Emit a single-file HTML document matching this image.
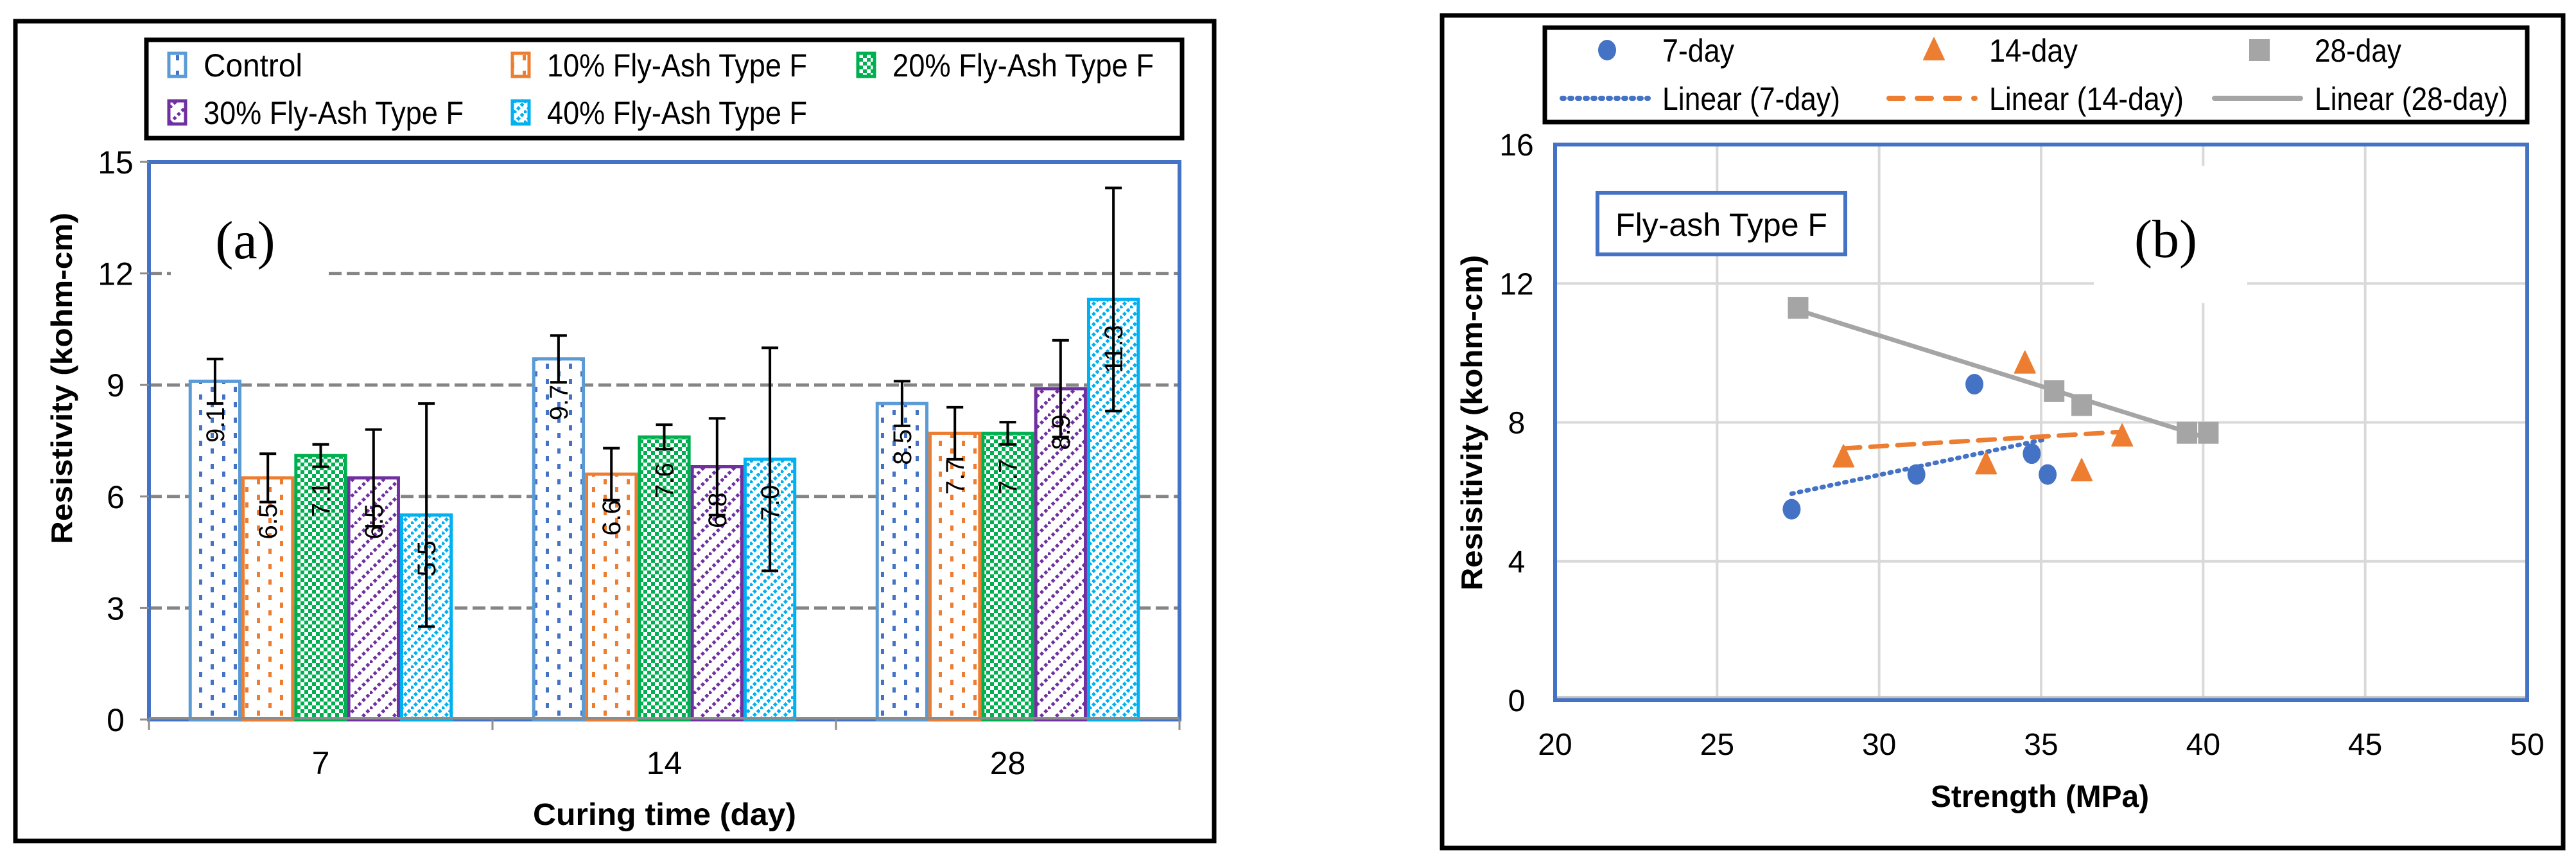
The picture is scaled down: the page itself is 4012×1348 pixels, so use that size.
<!DOCTYPE html>
<html><head><meta charset="utf-8"><style>
html,body{margin:0;padding:0;background:#fff;}
svg{display:block;font-family:"Liberation Sans",sans-serif;}
</style></head><body>
<svg id="fig" width="4012" height="1348" viewBox="0 0 4012 1348" xmlns="http://www.w3.org/2000/svg">
<defs>
<pattern id="pCtrl" width="36" height="24" patternUnits="userSpaceOnUse"><rect width="36" height="24" fill="#fff"/><rect x="4" y="2" width="5" height="8" fill="#4472C4"/><rect x="22" y="14" width="5" height="8" fill="#4472C4"/></pattern>
<pattern id="p10" width="36" height="24" patternUnits="userSpaceOnUse"><rect width="36" height="24" fill="#fff"/><rect x="4" y="2" width="5" height="8" fill="#ED7D31"/><rect x="22" y="14" width="5" height="8" fill="#ED7D31"/></pattern>
<pattern id="p20" width="12" height="12" patternUnits="userSpaceOnUse"><rect width="12" height="12" fill="#fff"/><rect x="0" y="0" width="6" height="6" fill="#00B050"/><rect x="6" y="6" width="6" height="6" fill="#00B050"/></pattern>
<pattern id="p30" width="24" height="24" patternUnits="userSpaceOnUse"><rect width="24" height="24" fill="#fff"/><path d="M0,24 L24,0" stroke="#7030A0" stroke-width="5" stroke-dasharray="5 4"/></pattern>
<pattern id="p40" width="16" height="16" patternUnits="userSpaceOnUse"><rect width="16" height="16" fill="#fff"/><path d="M0,16 L16,0" stroke="#00B0F0" stroke-width="5" stroke-dasharray="5 3"/></pattern>
</defs>

<!-- LEFT PANEL -->
<rect x="24" y="33" width="1867" height="1276" fill="#fff" stroke="#000" stroke-width="7"/>
<g id="legA">
<rect x="228" y="62" width="1613" height="153" fill="#fff" stroke="#000" stroke-width="7"/>
</g>
<g id="gridA"></g>
<rect x="232" y="252" width="1605" height="868" fill="none" stroke="#4472C4" stroke-width="6"/>
<g id="barsA"></g>
<g id="axesA"></g>
<text x="382" y="402" font-family="Liberation Serif,serif" font-size="84" text-anchor="middle">(a)</text>
<text x="1035" y="1284" font-size="48" font-weight="bold" text-anchor="middle" textLength="410" lengthAdjust="spacingAndGlyphs">Curing time (day)</text>
<text transform="translate(112,589) rotate(-90)" font-size="46" font-weight="bold" text-anchor="middle" textLength="516" lengthAdjust="spacingAndGlyphs">Resistivity (kohm-cm)</text>

<!-- RIGHT PANEL -->
<rect x="2246" y="24" width="1746" height="1296" fill="#fff" stroke="#000" stroke-width="7"/>
<g id="legB">
<rect x="2406" y="43" width="1530" height="147" fill="#fff" stroke="#000" stroke-width="7"/>
</g>
<g id="gridB"></g>
<rect x="3261" y="258" width="239" height="214" fill="#fff"/>
<rect x="2422" y="225" width="1514" height="865" fill="none" stroke="#4472C4" stroke-width="6"/>
<rect x="2488" y="300" width="386" height="96" fill="#fff" stroke="#4472C4" stroke-width="6"/>
<text x="2681" y="367" font-size="50" text-anchor="middle" textLength="330" lengthAdjust="spacingAndGlyphs">Fly-ash Type F</text>
<text x="3373" y="400" font-family="Liberation Serif,serif" font-size="84" text-anchor="middle">(b)</text>
<g id="trendB"></g>
<g id="ptsB"></g>
<g id="axesB"></g>
<text x="3177" y="1256" font-size="48" font-weight="bold" text-anchor="middle" textLength="340" lengthAdjust="spacingAndGlyphs">Strength (MPa)</text>
<text transform="translate(2308,658) rotate(-90)" font-size="46" font-weight="bold" text-anchor="middle" textLength="522" lengthAdjust="spacingAndGlyphs">Resisitivity (kohm-cm)</text>
</svg>
<script>
// ---- Chart A data ----
const catsA = ["7", "14", "28"];
const seriesNamesA = ["Control", "10% Fly-Ash Type F", "20% Fly-Ash Type F", "30% Fly-Ash Type F", "40% Fly-Ash Type F"];
const ctrlVals = [9.1, 9.7, 8.5];
const fa10Vals = [6.5, 6.6, 7.7];
const fa20Vals = [7.1, 7.6, 7.7];
const fa30Vals = [6.5, 6.8, 8.9];
const fa40Vals = [5.5, 7.0, 11.3];
const ctrlErr = [0.6, 0.63, 0.6];
const fa10Err = [0.65, 0.7, 0.7];
const fa20Err = [0.3, 0.33, 0.3];
const fa30Err = [1.3, 1.3, 1.3];
const fa40Err = [3.0, 3.0, 3.0];
const yTicksA = [0, 3, 6, 9, 12, 15];

// ---- Chart B data ----
const str7 = [27.3, 31.15, 32.94, 34.71, 35.2];
const res7 = [5.5, 6.5, 9.1, 7.1, 6.5];
const str14 = [28.9, 33.3, 34.5, 36.25, 37.5];
const res14 = [7.0, 6.8, 9.7, 6.6, 7.6];
const str28 = [27.5, 35.4, 36.25, 39.5, 40.16];
const res28 = [11.3, 8.9, 8.5, 7.7, 7.7];
const xTicksB = [20, 25, 30, 35, 40, 45, 50];
const yTicksB = [0, 4, 8, 12, 16];

const NS = "http://www.w3.org/2000/svg";
function mk(tag, attrs, parent, txt) {
  const e = document.createElementNS(NS, tag);
  for (const k in attrs) e.setAttribute(k, attrs[k]);
  if (txt !== undefined) e.textContent = txt;
  parent.appendChild(e);
  return e;
}

// ---- Chart A ----
const A = {x0: 232, x1: 1837, y0: 1120, y1: 252, max: 15};
const yA = v => A.y0 - v * (A.y0 - A.y1) / A.max;
const catW = (A.x1 - A.x0) / catsA.length;
const bw = catW / 6.5;
const valsA = [ctrlVals, fa10Vals, fa20Vals, fa30Vals, fa40Vals];
const errsA = [ctrlErr, fa10Err, fa20Err, fa30Err, fa40Err];
const strokesA = ["#5B9BD5", "#ED7D31", "#00B050", "#7030A0", "#00B0F0"];
const fillsA = ["url(#pCtrl)", "url(#p10)", "url(#p20)", "url(#p30)", "url(#p40)"];
const gridA = document.getElementById("gridA");
yTicksA.forEach(t => {
  if (t > 0 && t < A.max) {
    const l = mk("line", {x1: A.x0, x2: A.x1, y1: yA(t), y2: yA(t), stroke: "#858585", "stroke-width": 5, "stroke-dasharray": "20 8"}, gridA);
    
    
  }
});
mk("rect", {x: 266, y: yA(12) - 6, width: 238, height: 12, fill: "#fff"}, gridA);
const barsA = document.getElementById("barsA");
valsA.forEach((vals, s) => {
  vals.forEach((v, i) => {
    const cx = A.x0 + catW * (i + 0.5);
    const x = cx - 2.5 * bw + s * bw;
    const r = mk("rect", {x: x + 2.5, y: yA(v), width: bw - 5, height: A.y0 - yA(v), fill: fillsA[s], stroke: strokesA[s], "stroke-width": 5}, barsA);
    
    
    const bx = x + bw / 2, e = errsA[s][i];
    const eg = mk("g", {stroke: "#000", "stroke-width": 4}, barsA);
    
    
    mk("line", {x1: bx, x2: bx, y1: yA(v + e), y2: yA(v - e)}, eg);
    mk("line", {x1: bx - 13, x2: bx + 13, y1: yA(v + e), y2: yA(v + e)}, eg);
    mk("line", {x1: bx - 13, x2: bx + 13, y1: yA(v - e), y2: yA(v - e)}, eg);
    const lbl = mk("text", {transform: `translate(${bx + 14},${yA(v) + 40}) rotate(-90)`, "font-size": 40, "text-anchor": "end"}, barsA, v.toFixed(1));
    
    
  });
});
const axesA = document.getElementById("axesA");
mk("line", {x1: A.x0, x2: A.x1, y1: A.y0 - 2, y2: A.y0 - 2, stroke: "#8C8C8C", "stroke-width": 4}, axesA);
yTicksA.forEach(t => {
  mk("line", {x1: A.x0 - 14, x2: A.x0, y1: yA(t), y2: yA(t), stroke: "#8C8C8C", "stroke-width": 3}, axesA);
  const tl = mk("text", {x: A.x0 - 52, y: yA(t) + 18, "font-size": 50, "text-anchor": "middle"}, axesA, String(t));
  
  
});
for (let i = 0; i <= catsA.length; i++) {
  const x = A.x0 + catW * i;
  mk("line", {x1: x, x2: x, y1: A.y0, y2: A.y0 + 16, stroke: "#8C8C8C", "stroke-width": 3}, axesA);
}
catsA.forEach((c, i) => {
  const tl = mk("text", {x: A.x0 + catW * (i + 0.5), y: 1205, "font-size": 50, "text-anchor": "middle"}, axesA, c);
  
  
});
// legend A
const legA = document.getElementById("legA");
const legPosA = [[275, 101], [810, 101], [1348, 101], [275, 175], [810, 175]];
const legLenA = [154, 405, 407, 405, 405];
seriesNamesA.forEach((n, s) => {
  const [lx, ly] = legPosA[s];
  const g = mk("g", {}, legA);
  
  
  mk("rect", {x: lx - 12, y: ly - 18, width: 26, height: 36, fill: fillsA[s], stroke: strokesA[s], "stroke-width": 5}, g);
  mk("text", {x: lx + 42, y: ly + 18, "font-size": 50, textLength: legLenA[s], lengthAdjust: "spacingAndGlyphs"}, g, n);
});

// ---- Chart B ----
const B = {x0: 2422, x1: 3936, y0: 1090, y1: 225, xmin: 20, xmax: 50, ymax: 16};
const xB = v => B.x0 + (v - B.xmin) * (B.x1 - B.x0) / (B.xmax - B.xmin);
const yB = v => B.y0 - v * (B.y0 - B.y1) / B.ymax;
const gridB = document.getElementById("gridB");
xTicksB.forEach(t => {
  if (t > B.xmin && t < B.xmax) {
    const l = mk("line", {x1: xB(t), x2: xB(t), y1: B.y1, y2: B.y0, stroke: "#D9D9D9", "stroke-width": 4}, gridB);
    
    
  }
});
yTicksB.forEach(t => {
  if (t > 0 && t < B.ymax) {
    const l = mk("line", {x1: B.x0, x2: B.x1, y1: yB(t), y2: yB(t), stroke: "#D9D9D9", "stroke-width": 4}, gridB);
    
    
  }
});
mk("line", {x1: B.x0, x2: B.x1, y1: B.y0 - 4, y2: B.y0 - 4, stroke: "#BFBFBF", "stroke-width": 5}, gridB);
const axesB = document.getElementById("axesB");
xTicksB.forEach(t => {
  const tl = mk("text", {x: xB(t), y: 1175, "font-size": 48, "text-anchor": "middle"}, axesB, String(t));
  
  
});
yTicksB.forEach(t => {
  const tl = mk("text", {x: 2362, y: yB(t) + 17, "font-size": 48, "text-anchor": "middle"}, axesB, String(t));
  
  
});
function fit(xs, ys) {
  const n = xs.length, mx = xs.reduce((a, b) => a + b) / n, my = ys.reduce((a, b) => a + b) / n;
  let sxy = 0, sxx = 0;
  for (let i = 0; i < n; i++) { sxy += (xs[i] - mx) * (ys[i] - my); sxx += (xs[i] - mx) ** 2; }
  const m = sxy / sxx; return {m, b: my - m * mx};
}
const trendB = document.getElementById("trendB");
const seriesB = [
  {xs: str7, ys: res7, c: "#4472C4", dash: "3 9", w: 7, name: "7-day"},
  {xs: str14, ys: res14, c: "#ED7D31", dash: "26 16", w: 7, name: "14-day"},
  {xs: str28, ys: res28, c: "#A5A5A5", dash: "none", w: 7, name: "28-day"}
];
seriesB.forEach(s => {
  const f = fit(s.xs, s.ys);
  const lo = Math.min(...s.xs), hi = Math.max(...s.xs);
  const l = mk("line", {x1: xB(lo), y1: yB(f.m * lo + f.b), x2: xB(hi), y2: yB(f.m * hi + f.b), stroke: s.c, "stroke-width": s.w, "stroke-dasharray": s.dash, "stroke-linecap": "round"}, trendB);
  
  
});
const ptsB = document.getElementById("ptsB");
function marker(kind, x, y, c, parent) {
  if (kind === 0) return mk("ellipse", {cx: x, cy: y, rx: 14, ry: 16, fill: c}, parent);
  if (kind === 1) return mk("path", {d: `M${x},${y - 19} L${x + 16},${y + 15} L${x - 16},${y + 15} Z`, fill: c, "stroke-linejoin": "round", stroke: c, "stroke-width": 2}, parent);
  return mk("rect", {x: x - 16, y: y - 17, width: 32, height: 34, fill: c}, parent);
}
seriesB.forEach((s, k) => {
  s.xs.forEach((xv, i) => {
    const m = marker(k, xB(xv), yB(s.ys[i]), s.c, ptsB);
    
    
  });
});
// legend B
const legB = document.getElementById("legB");
const legXB = [2503, 3012, 3519];
const legLenB = [112, 138, 135];
const legLenLinB = [277, 303, 301];
seriesB.forEach((s, k) => {
  const g = mk("g", {}, legB);
  
  
  marker(k, legXB[k], 78, s.c, g);
  mk("text", {x: legXB[k] + 86, y: 96, "font-size": 50, textLength: legLenB[k], lengthAdjust: "spacingAndGlyphs"}, g, s.name);
  const g2 = mk("g", {}, legB);
  
  
  mk("line", {x1: legXB[k] - 70, x2: legXB[k] + 64, y1: 153, y2: 153, stroke: s.c, "stroke-width": 8, "stroke-dasharray": s.dash === "none" ? "none" : (k === 0 ? "3 9" : "22 22"), "stroke-linecap": "round"}, g2);
  mk("text", {x: legXB[k] + 86, y: 171, "font-size": 50, textLength: legLenLinB[k], lengthAdjust: "spacingAndGlyphs"}, g2, "Linear (" + s.name + ")");
});
</script>
</body></html>
